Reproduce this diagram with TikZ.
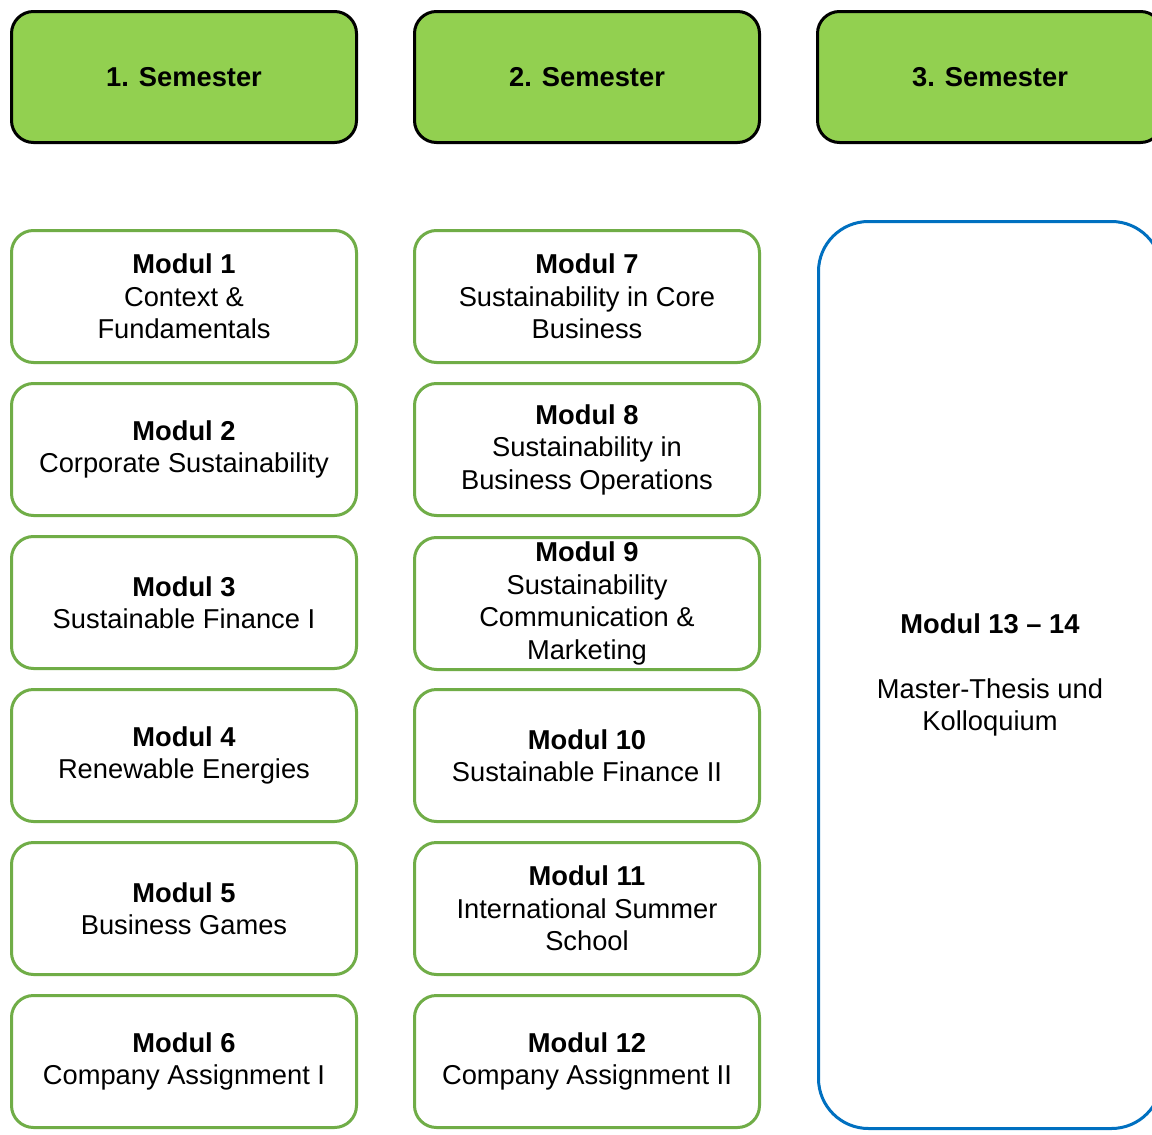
\documentclass[tikz,border=0pt]{standalone}
\usepackage{fontspec}
\setmainfont{Liberation Sans}
\definecolor{semgreen}{HTML}{92D050}
\definecolor{modgreen}{HTML}{70AD47}
\definecolor{thesisblue}{HTML}{0070C0}
\begin{document}
\begin{tikzpicture}[x=1pt,y=-1pt,
  semester/.style={draw=black, line width=3pt, fill=semgreen, rounded corners=22pt,
    minimum width=345pt, minimum height=131pt, inner sep=0pt, outer sep=0pt,
    align=center, font=\fontsize{27.3}{32.5}\selectfont\bfseries},
  modul/.style={draw=modgreen, line width=3pt, fill=white, rounded corners=22pt,
    minimum width=345pt, minimum height=132pt, inner sep=0pt, outer sep=0pt,
    align=center, font=\fontsize{27.3}{32.5}\selectfont},
  thesis/.style={draw=thesisblue, line width=3pt, fill=white, rounded corners=50pt,
    minimum width=343pt, minimum height=907pt, inner sep=0pt, outer sep=0pt,
    align=center, font=\fontsize{27.3}{32.5}\selectfont}]
\useasboundingbox (0,0) rectangle (1152,1135);
\clip (0,0) rectangle (1152,1135);
\fill[white] (0,0) rectangle (1152,1135);

\node[semester] (s1) at (184,77) {1. Semester};
\node[semester] (s2) at (587,77) {2. Semester};
\node[semester] (s3) at (990,77) {3. Semester};

\node[modul] (m1) at (184,296.5) {\textbf{Modul 1}\\Context \&\\Fundamentals};
\node[modul] (m2) at (184,449.5) {\textbf{Modul 2}\\Corporate Sustainability};
\node[modul] (m3) at (184,602.5) {\textbf{Modul 3}\\Sustainable Finance I};
\node[modul] (m4) at (184,755.5) {\textbf{Modul 4}\\Renewable Energies};
\node[modul] (m5) at (184,908.5) {\textbf{Modul 5}\\Business Games};
\node[modul] (m6) at (184,1061.5) {\textbf{Modul 6}\\Company Assignment I};

\node[modul] (m7) at (587,296.5) {\textbf{Modul 7}\\Sustainability in Core\\Business};
\node[modul] (m8) at (587,449.5) {\textbf{Modul 8}\\Sustainability in\\Business Operations};
\node[modul] (m9) at (587,603.5) {\textbf{Modul 9}\\Sustainability\\Communication \&\\Marketing};
\node[modul] (m10) at (587,755.5) {\textbf{Modul 10}\\Sustainable Finance II};
\node[modul] (m11) at (587,908.5) {\textbf{Modul 11}\\International Summer\\School};
\node[modul] (m12) at (587,1061.5) {\textbf{Modul 12}\\Company Assignment II};

\node[thesis] (m13) at (990,675) {\textbf{Modul 13 – 14}\\[32.5pt]Master-Thesis und\\Kolloquium};
\end{tikzpicture}
\end{document}
